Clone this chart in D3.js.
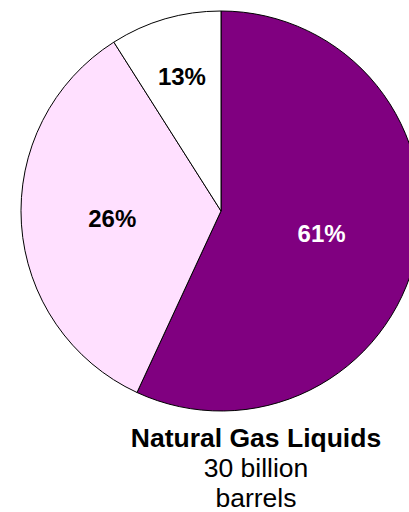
<!DOCTYPE html>
<html lang="en">
<head>
<meta charset="UTF-8">
<title>Natural Gas Liquids</title>
<script src="https://d3js.org/d3.v7.min.js"></script>
<style>
  html, body { margin: 0; padding: 0; background: #fff; overflow: hidden; }
  svg { display: block; }
  text { font-family: "Liberation Sans", Arial, sans-serif; }
</style>
</head>
<body>
<div id="chart"></div>
<script>
// slice sizes as drawn (share of the pie), and the printed labels
const categories = ["A", "B", "C"];
const values = [56.9, 34.1, 9.0];
const labels = ["61%", "26%", "13%"];
const colors = ["#800080", "#FFE0FF", "#FFFFFF"];
const labelColors = ["#FFFFFF", "#000000", "#000000"];
const titleLines = ["Natural Gas Liquids", "30 billion", "barrels"];

const width = 409, height = 512;
const cx = 221, cy = 211, radius = 200;
// distance of each label from the centre, as a share of the radius
const labelPos = [0.515, 0.545, 0.70];

const svg = d3.select("#chart").append("svg")
    .attr("width", width)
    .attr("height", height);

const g = svg.append("g")
    .attr("transform", "translate(" + cx + "," + cy + ")");

const pie = d3.pie().sort(null).value(function(d) { return d; });
const arcs = pie(values);

const arc = d3.arc().innerRadius(0).outerRadius(radius);

g.selectAll("path.slice")
  .data(arcs)
  .enter().append("path")
    .attr("class", "slice")
    .attr("d", arc)
    .attr("fill", function(d, i) { return colors[i]; })
    .attr("stroke", "#000")
    .attr("stroke-width", 1)
    .attr("stroke-linejoin", "round");

g.selectAll("text.pct")
  .data(arcs)
  .enter().append("text")
    .attr("class", "pct")
    .attr("transform", function(d, i) {
      const r = radius * labelPos[i];
      const a = (d.startAngle + d.endAngle) / 2;
      return "translate(" + (Math.sin(a) * r) + "," + (-Math.cos(a) * r) + ")";
    })
    .attr("dy", "0.36em")
    .attr("text-anchor", "middle")
    .attr("font-size", 24)
    .attr("font-weight", "bold")
    .attr("fill", function(d, i) { return labelColors[i]; })
    .text(function(d, i) { return labels[i]; });

// caption under the pie
const caption = svg.append("text")
    .attr("x", 256)
    .attr("y", 447)
    .attr("text-anchor", "middle")
    .attr("font-size", 26.5)
    .attr("fill", "#000");

caption.selectAll("tspan")
  .data(titleLines)
  .enter().append("tspan")
    .attr("x", 256)
    .attr("dy", function(d, i) { return i === 0 ? 0 : 30; })
    .attr("font-weight", function(d, i) { return i === 0 ? "bold" : "normal"; })
    .text(function(d) { return d; });
</script>
</body>
</html>
